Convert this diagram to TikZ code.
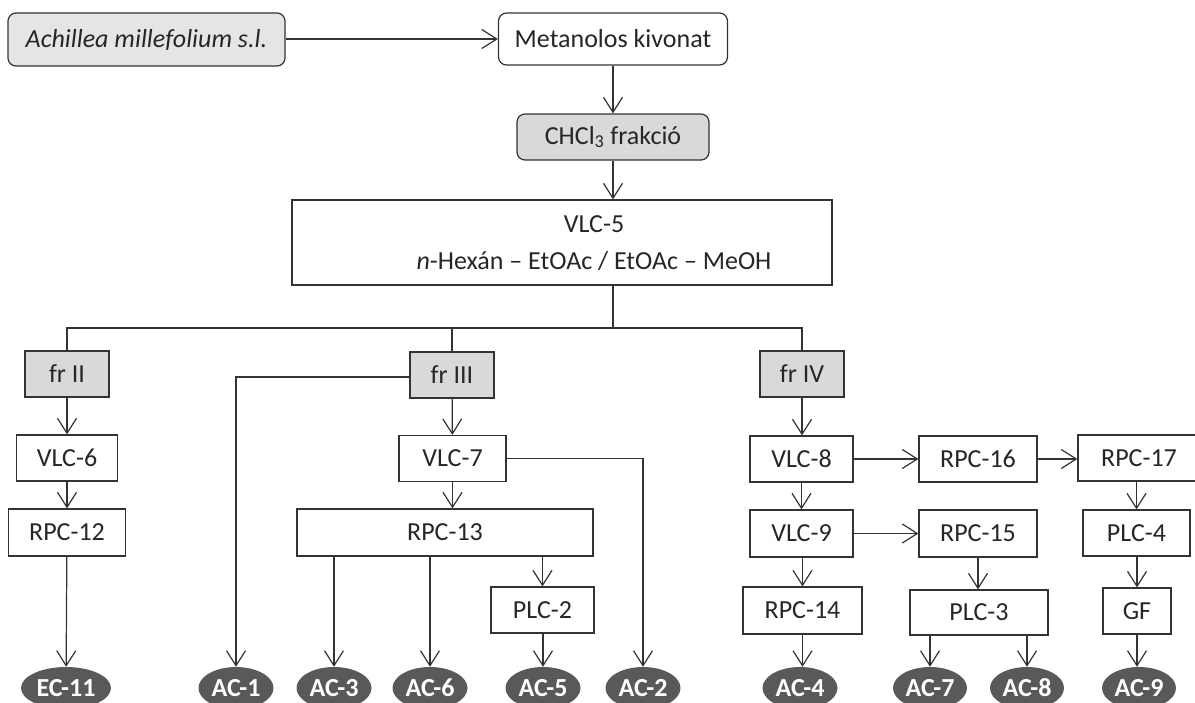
\documentclass[tikz,border=0pt]{standalone}
\usepackage{fontspec}
\setmainfont{Carlito}
\usepackage{tikz}
\usetikzlibrary{arrows.meta,shapes.geometric}

\begin{document}
\begin{tikzpicture}[
    x=1pt, y=-1pt,
    every node/.style={font=\fontsize{26}{31}\selectfont, text=black!85},
    box/.style={
      draw=black!80,
      line width=1.2pt,
      fill=white,
      inner sep=0pt,
      minimum height=46pt
    },
    frac/.style={box, fill=black!15},
    rbox/.style={box, rounded corners=8pt},
    prod/.style={
      ellipse,
      fill=black!65,
      text=white,
      font=\fontsize{26}{31}\selectfont\bfseries,
      inner sep=0pt,
      minimum width=75pt,
      minimum height=42pt
    },
    link/.style={draw=black!80, line width=1.2pt},
    arr/.style={link, -{Straight Barb[length=15pt,width=19pt]}}
]
  \useasboundingbox (0,0) rectangle (1195,702);

  % Starting material and extract
  \node[rbox, fill=black!10, minimum width=277pt, minimum height=53pt] (plant) at (146.5,39.5) {\textit{Achillea millefolium s.l.}};
  \node[rbox, minimum width=229pt, minimum height=52pt] (meta) at (613,39) {Metanolos kivonat};
  \node[rbox, fill=black!15, minimum width=192pt] (chcl) at (613,137) {CHCl\textsubscript{3} frakció};
  \node[box, minimum width=540pt, minimum height=85pt] (vlc5) at (562,242.5) {};
  \node[align=center, font=\fontsize{26}{37}\selectfont] (vlc5txt) at (594,243.5) {VLC-5\\\textit{n}-Hexán – EtOAc / EtOAc – MeOH};

  \draw[arr] (plant.east |- meta.west) -- (meta.west);
  \draw[arr] (meta) -- (chcl);
  \draw[arr] (chcl.south) -- (chcl.south |- vlc5.north);

  % Fractions
  \coordinate (bus) at (613,328);
  \node[frac, minimum width=84pt] (frII)  at (67,374)  {fr II};
  \node[frac, minimum width=84pt] (frIII) at (452,375) {fr III};
  \node[frac, minimum width=84pt] (frIV)  at (802,374) {fr IV};

  \draw[link] (vlc5.south -| bus) -- (bus);
  \draw[link] (frII.north) |- (frIV.north |- bus) -- (frIV.north);
  \draw[link] (frIII.north) -- (frIII.north |- bus);

  % fr II branch
  \node[box, minimum width=101pt] (vlc6)  at (67,458)  {VLC-6};
  \node[box, minimum width=117pt, minimum height=47pt] (rpc12) at (67,532.5) {RPC-12};
  \node[prod, minimum width=90pt] (ec11) at (66,688) {EC-11};

  \draw[arr] (frII) -- (vlc6);
  \draw[arr] (vlc6) -- (rpc12);
  \draw[arr] (rpc12) -- (ec11);

  % fr III branch
  \node[box, minimum width=107pt] (vlc7)  at (452.5,458.5) {VLC-7};
  \node[box, minimum width=296pt, minimum height=47pt] (rpc13) at (445,532.5) {RPC-13};
  \node[box, minimum width=103pt] (plc2)  at (542.5,610) {PLC-2};
  \node[prod] (ac1) at (236,688) {AC-1};
  \node[prod] (ac3) at (334,688) {AC-3};
  \node[prod] (ac6) at (430,688) {AC-6};
  \node[prod] (ac5) at (543,688) {AC-5};
  \node[prod] (ac2) at (643,688) {AC-2};

  \draw[arr] ([yshift=-2pt]frIII.west) -| (ac1.north);
  \draw[arr] (frIII) -- (vlc7);
  \draw[arr] (vlc7.south) -- (vlc7.south |- rpc13.north);
  \draw[arr] (vlc7.east) -| (ac2.north);
  \draw[arr] (ac3.north |- rpc13.south) -- (ac3.north);
  \draw[arr] (ac6.north |- rpc13.south) -- (ac6.north);
  \draw[arr] (plc2.north |- rpc13.south) -- (plc2.north);
  \draw[arr] (ac5.north |- plc2.south) -- (ac5.north);

  % fr IV branch
  \node[box, minimum width=103pt] (vlc8)  at (801.5,459) {VLC-8};
  \node[box, minimum width=118pt] (rpc16) at (978,459)   {RPC-16};
  \node[box, minimum width=122pt] (rpc17) at (1139,458)  {RPC-17};
  \node[box, minimum width=103pt, minimum height=47pt] (vlc9) at (801.5,533.5) {VLC-9};
  \node[box, minimum width=118pt, minimum height=47pt] (rpc15) at (978,533.5) {RPC-15};
  \node[box, minimum width=107pt] (plc4)  at (1136.5,533) {PLC-4};
  \node[box, minimum width=119pt, minimum height=47pt] (rpc14) at (802.5,610.5) {RPC-14};
  \node[box, minimum width=138pt, minimum height=45pt] (plc3) at (979,612.5) {PLC-3};
  \node[box, minimum width=68pt] (gf) at (1137,611) {GF};
  \node[prod] (ac4) at (800,688)  {AC-4};
  \node[prod, minimum width=74pt] (ac7) at (930,688)  {AC-7};
  \node[prod, minimum width=74pt] (ac8) at (1027,688) {AC-8};
  \node[prod, minimum width=74pt] (ac9) at (1139,688) {AC-9};

  \draw[arr] (frIV.south) -- (frIV.south |- vlc8.north);
  \draw[arr] (vlc8) -- (rpc16);
  \draw[arr] (rpc16.east) -- (rpc16.east -| rpc17.west);
  \draw[arr] (vlc8) -- (vlc9);
  \draw[arr] (vlc9) -- (rpc15);
  \draw[arr] (rpc14.north |- vlc9.south) -- (rpc14.north);
  \draw[arr] (rpc14.south) -- (rpc14.south |- ac4.north);
  \draw[arr] (rpc15.south) -- (rpc15.south |- plc3.north);
  \draw[arr] (ac7.north |- plc3.south) -- (ac7.north);
  \draw[arr] (ac8.north |- plc3.south) -- (ac8.north);
  \draw[arr] (plc4.north |- rpc17.south) -- (plc4.north);
  \draw[arr] (gf.north |- plc4.south) -- (gf.north);
  \draw[arr] (gf.south) -- (gf.south |- ac9.north);
\end{tikzpicture}
\end{document}
